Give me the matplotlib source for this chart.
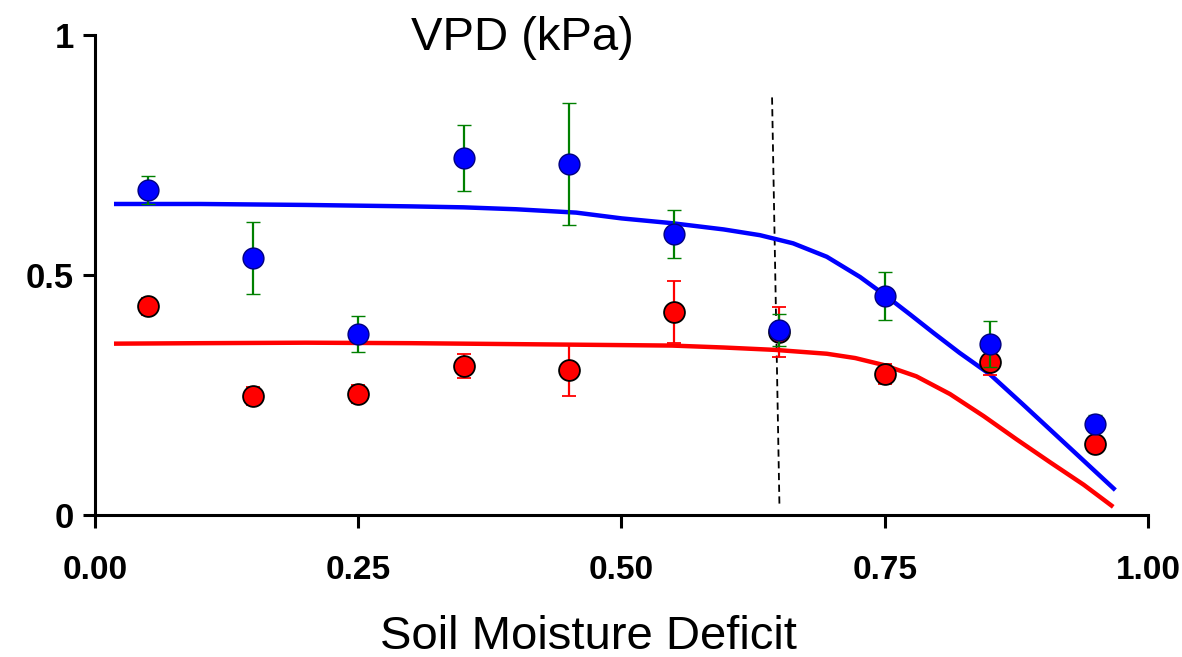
import matplotlib
matplotlib.use("Agg")
import matplotlib.pyplot as plt

plt.rcParams['font.family'] = ['Liberation Sans', 'DejaVu Sans']

# Data
x_pts = [0.05, 0.15, 0.25, 0.35, 0.45, 0.55, 0.65, 0.75, 0.85, 0.95]
blue_y = [0.677, 0.535, 0.377, 0.744, 0.731, 0.585, 0.385, 0.456, 0.356, 0.190]
blue_err = [0.030, 0.075, 0.037, 0.069, 0.127, 0.050, 0.033, 0.050, 0.048, 0.018]
red_y = [0.435, 0.248, 0.252, 0.310, 0.302, 0.423, 0.381, 0.294, 0.319, 0.148]
red_err = [0.018, 0.019, 0.018, 0.025, 0.053, 0.065, 0.052, 0.021, 0.027, 0.015]

# Fitted curves
blue_fit_x = [0.018, 0.10, 0.20, 0.30, 0.35, 0.40, 0.457, 0.50, 0.548, 0.597, 0.6315,
              0.663, 0.695, 0.7265, 0.7515, 0.774, 0.796, 0.821, 0.85, 0.88, 0.91,
              0.94, 0.969]
blue_fit_y = [0.648, 0.648, 0.646, 0.643, 0.641, 0.637, 0.630, 0.618, 0.608, 0.595, 0.583,
              0.566, 0.538, 0.496, 0.456, 0.418, 0.380, 0.338, 0.293, 0.233, 0.172,
              0.111, 0.052]
red_fit_x = [0.018, 0.10, 0.20, 0.30, 0.40, 0.499, 0.548, 0.597, 0.646, 0.695, 0.722,
             0.749, 0.780, 0.812, 0.844, 0.875, 0.907, 0.939, 0.967]
red_fit_y = [0.357, 0.358, 0.359, 0.358, 0.356, 0.354, 0.353, 0.349, 0.344, 0.336, 0.327,
             0.3125, 0.289, 0.252, 0.206, 0.158, 0.110, 0.063, 0.017]

threshold_x = [0.643, 0.650]
threshold_y = [0.87, 0.02]

xticks = [0.0, 0.25, 0.5, 0.75, 1.0]
xticklabels = ["0.00", "0.25", "0.50", "0.75", "1.00"]
yticks = [0, 0.5, 1]
yticklabels = ["0", "0.5", "1"]

fig = plt.figure(figsize=(11.82, 6.57), dpi=100)
ax = fig.add_axes([0.0804, 0.2161, 0.8908, 0.7306])

ax.plot(blue_fit_x, blue_fit_y, color='#0000ff', lw=3.2, zorder=2,
        solid_capstyle='butt', solid_joinstyle='round')
ax.plot(red_fit_x, red_fit_y, color='#ff0000', lw=3.2, zorder=2,
        solid_capstyle='butt', solid_joinstyle='round')

ax.plot(threshold_x, threshold_y, color='black', lw=1.3, ls=(0, (4, 2.5)), zorder=1)

ax.errorbar(x_pts, red_y, yerr=red_err, fmt='o', color='#ff0000', ecolor='#ff0000',
            elinewidth=1.6, capsize=5, capthick=1.6, markersize=15,
            markeredgecolor='black', markeredgewidth=1.3, zorder=3)
ax.errorbar(x_pts, blue_y, yerr=blue_err, fmt='o', color='#0000ff', ecolor='#008000',
            elinewidth=1.6, capsize=5, capthick=1.6, markersize=15,
            markeredgecolor='#000080', markeredgewidth=1.0, zorder=4)

ax.set_xlim(0, 1)
ax.set_ylim(0, 1)
ax.spines['top'].set_visible(False)
ax.spines['right'].set_visible(False)
ax.spines['left'].set_linewidth(2.2)
ax.spines['bottom'].set_linewidth(2.2)

ax.set_xticks(xticks)
ax.set_xticklabels(xticklabels, fontsize=24, fontweight='bold')
ax.set_yticks(yticks)
ax.set_yticklabels(yticklabels, fontsize=25, fontweight='bold')
ax.tick_params(axis='both', direction='out', length=9, width=2.2)
ax.tick_params(axis='x', pad=20)
ax.tick_params(axis='y', pad=6)

ax.text(0.406, 0.993, "VPD (kPa)", transform=ax.transAxes, fontsize=34,
        ha='center', va='center')
fig.text(0.498, 0.03, "Soil Moisture Deficit", fontsize=34, ha='center', va='center')

fig.savefig("out.png", dpi=100)
